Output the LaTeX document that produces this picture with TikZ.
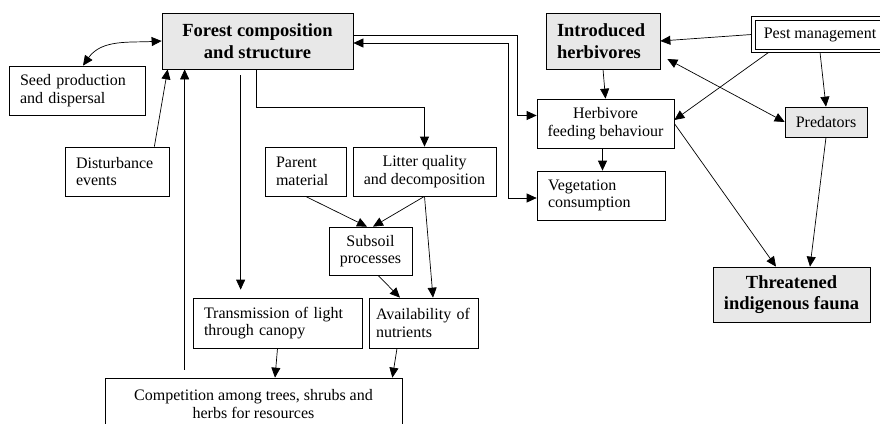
\documentclass[tikz,border=0pt]{standalone}
\usepackage{fontspec}
\setmainfont{Liberation Serif}
\usetikzlibrary{positioning, arrows.meta}

\begin{document}
\begin{tikzpicture}[x=1pt, y=1pt, line width=0.7pt, >={Triangle[length=10pt, width=9pt]},
  every node/.style={draw, inner sep=0pt, font=\fontsize{16}{17.5}\selectfont},
  cbox/.style 2 args={align=center, minimum width=#1, minimum height=#2},
  lbox/.style 2 args={align=left, inner xsep=11pt, text width=#1, minimum height=#2},
  key/.style={fill=gray!18, font=\fontsize{18.5}{21.5}\selectfont\bfseries}]

\def\pagew{880}
\def\pageh{423}
\def\framegap{3}

\clip (0,0) rectangle (\pagew,-\pageh);

  % Nodes
  \node (forest) [cbox={191pt}{56pt}, key] at (257.5,-41) {Forest composition\\and structure};
  \node (seed) [lbox={114pt}{49pt}] at (77,-90.5) {Seed production\\and dispersal};
  \node (dist) [lbox={82pt}{49pt}] at (117,-171.5) {Disturbance\\events};
  \node (parent) [lbox={59pt}{49pt}] at (305.5,-171.5) {Parent\\material};
  \node (litter) [cbox={143pt}{49pt}] at (424.5,-171.5) {Litter quality\\and decomposition};
  \node (subsoil) [cbox={83pt}{48pt}] at (370.5,-251) {Subsoil\\processes};
  \node (trans) [lbox={147pt}{50pt}] at (277.5,-323) {Transmission of light\\through canopy};
  \node (avail) [lbox={95pt}{50pt}, inner xsep=7pt] at (423.5,-323) {Availability of\\nutrients};
  \node (comp) [cbox={297pt}{52pt}] at (253.5,-404) {Competition among trees, shrubs and\\herbs for resources};

  \node (intro) [lbox={92pt}{56pt}, key] at (603,-41) {Introduced\\herbivores};
  \node (herbfeed) [cbox={137pt}{49pt}] at (605.5,-123.5) {Herbivore\\feeding behaviour};
  \node (veg) [lbox={106pt}{49pt}] at (601,-195.5) {Vegetation\\consumption};
  \node (pest) [cbox={130pt}{29pt}] at (820,-34.5) {Pest management};
  \draw ([shift={(-\framegap,\framegap)}]pest.north west) rectangle ([shift={(\framegap,-\framegap)}]pest.south east);
  \node (pred) [cbox={82pt}{30pt}, fill=gray!18] at (826,-122) {Predators};
  \node (threat) [cbox={157pt}{55pt}, key] at (791.5,-294.5) {Threatened\\indigenous fauna};

  % Arrows
  \draw[<->] ([xshift=6]seed.north) to[out=55, in=183] (forest.west);
  \draw[->] ([xshift=-15]dist.north east) -- ([xshift=6]forest.south west);
  \draw[->] ([xshift=80,yshift=8]comp.north west) -- ([xshift=23]forest.south west);
  \draw[->] ([xshift=79,yshift=-6]forest.south west) -- ([xshift=48,yshift=8]trans.north west);
  \draw[->] ([xshift=95]forest.south west) -- ++(0,-38) -| (litter.north);
  \draw[->] ([yshift=6]forest.east) -- ++(164,0) |- ([yshift=8]herbfeed.west);
  \draw[<->] ([yshift=-2]forest.east) -- ++(155,0) |- ([yshift=-2.5]veg.west);

  % Soil
  \draw[->] (parent.south) -- ([xshift=-3.5]subsoil.north);
  \draw[->] (litter.south) -- ([xshift=2.5]subsoil.north);
  \draw[->] (litter.south) -- ([xshift=9.5]avail.north);
  \draw[->] ([xshift=7.5]subsoil.south) -- ([xshift=-23.5]avail.north);
  \draw[->] (trans.south) -- ([xshift=21.5]comp.north);
  \draw[->] ([xshift=-26.5]avail.south) -- ([xshift=-10]comp.north east);

  % Herbivores and fauna
  \draw[->] (intro.south) -- (herbfeed.north);
  \draw[->] ([xshift=-3]herbfeed.south) -- ([xshift=-3]herbfeed.south |- veg.north);
  \draw[->] ([xshift=-\framegap]pest.west) -- (intro.east);
  \draw[->] ([xshift=14,yshift=-\framegap]pest.south west) -- ([yshift=3.5]herbfeed.east);
  \draw[->] ([yshift=-\framegap]pest.south) -- (pred.north);
  \draw[<->] ([xshift=7,yshift=-18]intro.east) -- (pred.west);
  \draw[->] (herbfeed.east) -- ([xshift=-15.5]threat.north);
  \draw[->] (pred.south) -- ([xshift=18.5]threat.north);

\end{tikzpicture}
\end{document}
